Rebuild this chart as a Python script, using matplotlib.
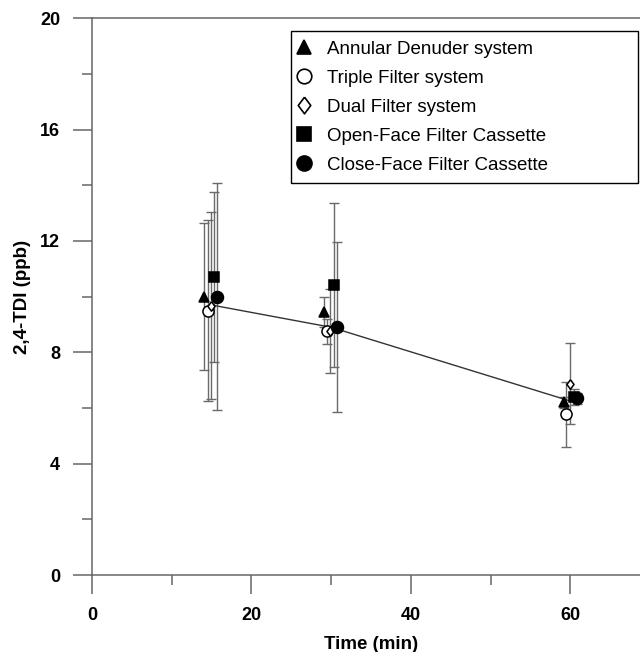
import numpy as np
import matplotlib
matplotlib.use("Agg")
import matplotlib.pyplot as plt
from matplotlib.lines import Line2D
from matplotlib.ticker import MultipleLocator

plt.rcParams['font.family'] = ['Liberation Sans', 'DejaVu Sans']

# readings from the figure: time (min), 2,4-TDI (ppb), +/- error
labels = ["Annular Denuder system", "Triple Filter system", "Dual Filter system",
          "Open-Face Filter Cassette", "Close-Face Filter Cassette"]

ad_t = [14.1, 29.1, 59.2]
ad_v = [10.0, 9.45, 6.2]
ad_e = [2.63, 0.53, 0.2]

tf_t = [14.5, 29.5, 59.5]
tf_v = [9.5, 8.75, 5.77]
tf_e = [3.25, 0.45, 1.17]

df_t = [14.9, 29.9, 60.0]
df_v = [9.68, 8.76, 6.87]
df_e = [3.35, 1.5, 1.45]

of_t = [15.3, 30.3, 60.5]
of_v = [10.7, 10.43, 6.4]
of_e = [3.05, 2.94, 0.3]

cf_t = [15.7, 30.7, 60.9]
cf_v = [10.0, 8.9, 6.35]
cf_e = [4.07, 3.05, 0.2]

# connecting line
line_t = [15, 30, 60]
line_v = [9.7, 8.9, 6.25]

diamond = [(0, 1), (0.75, 0), (0, -1), (-0.75, 0), (0, 1)]

styles = [
    dict(marker='^', ms=7.5, mfc='black', mec='black'),
    dict(marker='o', ms=8.0, mfc='white', mec='black'),
    dict(marker=diamond, ms=6.8, mfc='white', mec='black'),
    dict(marker='s', ms=7.8, mfc='black', mec='black'),
    dict(marker='o', ms=8.6, mfc='black', mec='black'),
]
data = [(ad_t, ad_v, ad_e), (tf_t, tf_v, tf_e), (df_t, df_v, df_e),
        (of_t, of_v, of_e), (cf_t, cf_v, cf_e)]

fig = plt.figure(figsize=(6.4, 6.52), dpi=100)
ax = fig.add_axes([92 / 640, 1 - 575 / 652, 558 / 640, (575 - 18.3) / 652])

ax.plot(line_t, line_v, color='#333333', lw=1.0, zorder=3)

for (t, v, e), st in zip(data, styles):
    ax.errorbar(t, v, yerr=e, fmt='none', ecolor='#6a6a6a', elinewidth=1.0,
                capsize=3.5, capthick=1.0, zorder=2)
for (t, v, e), st in zip(data, styles):
    ax.plot(t, v, ls='none', mew=1.1, zorder=4, **st)

ax.set_xlim(0, 70)
ax.set_ylim(0, 20)
ax.xaxis.set_major_locator(MultipleLocator(20))
ax.xaxis.set_minor_locator(MultipleLocator(10))
ax.yaxis.set_major_locator(MultipleLocator(4))
ax.yaxis.set_minor_locator(MultipleLocator(2))

for s in ['left', 'bottom', 'top']:
    ax.spines[s].set_color('#666666')
    ax.spines[s].set_linewidth(1.1)
ax.spines['right'].set_visible(False)
ax.tick_params(which='major', direction='out', length=14, width=1.1, color='#666666',
               labelsize=13, pad=9)
ax.tick_params(which='minor', direction='out', length=7, width=1.1, color='#666666')
ax.tick_params(top=False, right=False, which='both')
for lab in ax.get_xticklabels() + ax.get_yticklabels():
    lab.set_fontweight('bold')

ax.set_xlabel('Time (min)', fontsize=13.5, fontweight='bold', labelpad=9)
ax.set_ylabel('2,4-TDI (ppb)', fontsize=13.5, fontweight='bold', labelpad=6.5)

leg_sizes = [9.5, 10.5, 12.0, 10.5, 10.8]
handles = [Line2D([], [], ls='none', marker=st['marker'], mfc=st['mfc'], mec=st['mec'],
                  ms=s, mew=1.2) for st, s in zip(styles, leg_sizes)]
leg = fig.legend(handles, labels, loc='upper left',
                 bbox_to_anchor=(290.7 / 640, 1 - 31 / 652 - 0.01, (638 - 290.7) / 640, 0.01),
                 mode='expand', fontsize=13.5, frameon=True, fancybox=False,
                 edgecolor='black', framealpha=1, handletextpad=1.05, handlelength=0.4,
                 labelspacing=0.64, borderpad=0.5, borderaxespad=0)
leg.get_frame().set_linewidth(1.0)

fig.savefig('out.png', dpi=100)
